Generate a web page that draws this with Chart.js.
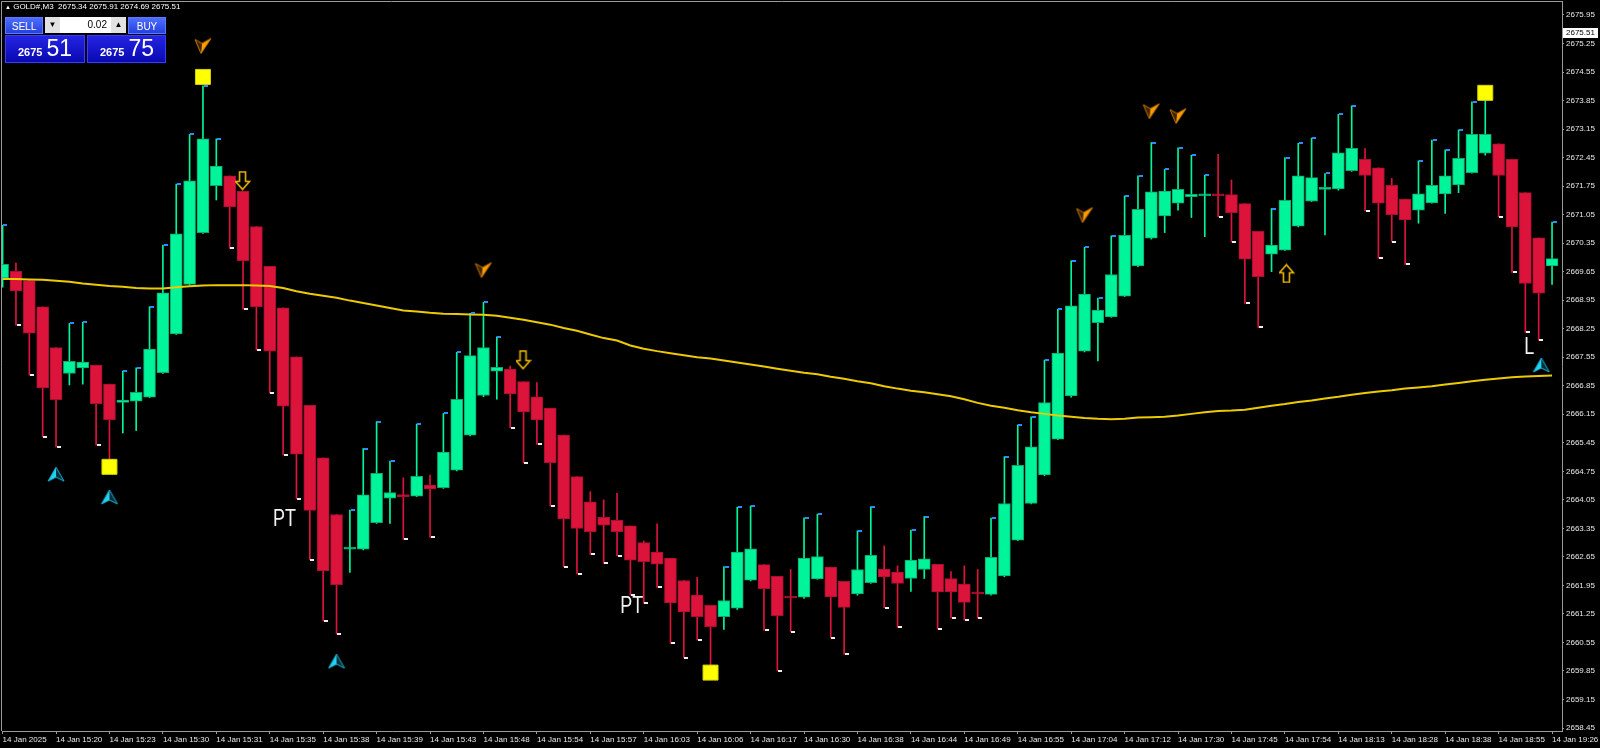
<!DOCTYPE html>
<html>
<head>
<meta charset="utf-8">
<script src="https://cdn.jsdelivr.net/npm/chart.js@4.4.1/dist/chart.umd.min.js"></script>
<style>
  html, body { margin: 0; padding: 0; background: #000; }
  #wrap { position: relative; width: 1600px; height: 748px; background: #000; overflow: hidden; }
  #chart { position: absolute; left: 0; top: 0; }
  .ui { position: absolute; font-family: "Liberation Sans", Arial, sans-serif; color: #fff; }
  .hdr { left: 5px; top: 2px; font-size: 8px; line-height: 10px; white-space: pre; }
  .hdr .tri { font-size: 6px; }
  .btn { top: 17px; height: 17px; font-size: 10px; line-height: 17px; text-align: center;
         background: linear-gradient(#4f6dff, #2442dc); box-sizing: border-box; border: 1px solid #5c7aff; }
  .spin { left: 45px; top: 17px; width: 81px; height: 16px; background: #fff; }
  .sb { position: absolute; top: 0; width: 15px; height: 16px; background: #e2e2e2; color: #000;
        font-size: 8px; line-height: 16px; text-align: center; }
  .fld { position: absolute; left: 16px; right: 16px; top: 0; height: 16px; color: #000;
         font-size: 10px; line-height: 16px; text-align: right; padding-right: 3px; }
  .pbox { top: 35px; height: 28px; box-sizing: border-box; border: 1px solid #3c3cff;
          background: linear-gradient(#2424e4, #0909b2); }
  .pline { position: absolute; left: 12px; bottom: 2px; white-space: nowrap; line-height: 1; }
  .sm { font-size: 11px; font-weight: bold; margin-right: 4px; }
  .big { font-size: 23px; }
</style>
</head>
<body>
<div id="wrap">
  <canvas id="chart" width="1600" height="748"></canvas>
  <div class="ui hdr"><span class="tri">▲</span> GOLD#,M3  2675.34 2675.91 2674.69 2675.51</div>
  <div class="ui btn" style="left:5px;width:38px;">SELL</div>
  <div class="ui spin">
    <div class="sb" style="left:0">▼</div>
    <div class="fld">0.02</div>
    <div class="sb" style="right:0">▲</div>
  </div>
  <div class="ui btn" style="left:128px;width:38px;">BUY</div>
  <div class="ui pbox" style="left:5px;width:80px;"><div class="pline"><span class="sm">2675</span><span class="big">51</span></div></div>
  <div class="ui pbox" style="left:87px;width:79px;"><div class="pline"><span class="sm">2675</span><span class="big">75</span></div></div>
</div>
<script>
// time axis labels, one every 4 bars
const timeLabels = ['14 Jan 2025', '14 Jan 15:20', '14 Jan 15:23', '14 Jan 15:30', '14 Jan 15:31',
  '14 Jan 15:35', '14 Jan 15:38', '14 Jan 15:39', '14 Jan 15:43', '14 Jan 15:48', '14 Jan 15:54',
  '14 Jan 15:57', '14 Jan 16:03', '14 Jan 16:06', '14 Jan 16:17', '14 Jan 16:30', '14 Jan 16:38',
  '14 Jan 16:44', '14 Jan 16:49', '14 Jan 16:55', '14 Jan 17:04', '14 Jan 17:12', '14 Jan 17:30',
  '14 Jan 17:45', '14 Jan 17:54', '14 Jan 18:13', '14 Jan 18:28', '14 Jan 18:38', '14 Jan 18:55',
  '14 Jan 19:26'];

const priceTicks = [2658.45, 2659.15, 2659.85, 2660.55, 2661.25, 2661.95, 2662.65, 2663.35, 2664.05,
  2664.75, 2665.45, 2666.15, 2666.85, 2667.55, 2668.25, 2668.95, 2669.65, 2670.35, 2671.05, 2671.75,
  2672.45, 2673.15, 2673.85, 2674.55, 2675.25, 2675.95];

const bidPrice = 2675.51;

const openP = [
  2669.49, 2669.66, 2669.43, 2668.79, 2667.79, 2667.15, 2667.29, 2667.36, 2666.89, 2666.44,
  2666.47, 2666.57, 2667.17, 2668.12, 2669.34, 2670.61, 2671.76, 2672.00, 2671.63, 2670.76,
  2669.78, 2668.76, 2667.56, 2666.37, 2665.08, 2663.69, 2662.84, 2662.84, 2663.49, 2664.09,
  2664.17, 2664.14, 2664.41, 2664.35, 2664.78, 2665.64, 2666.61, 2667.21, 2667.26, 2666.95,
  2666.58, 2666.30, 2665.64, 2664.62, 2664.00, 2663.62, 2663.55, 2663.41, 2663.00, 2662.77,
  2662.62, 2662.07, 2661.71, 2661.46, 2661.18, 2661.39, 2662.08, 2662.46, 2662.17, 2661.69,
  2661.66, 2662.11, 2662.40, 2662.05, 2661.74, 2662.02, 2662.35, 2662.28, 2662.12, 2662.34,
  2662.47, 2662.12, 2661.98, 2661.77, 2661.73, 2662.18, 2663.06, 2663.96, 2664.66, 2665.54,
  2666.60, 2667.70, 2668.40, 2668.54, 2669.05, 2669.79, 2670.47, 2671.02, 2671.33, 2671.49,
  2671.51, 2671.54, 2671.54, 2671.32, 2670.64, 2670.08, 2670.18, 2670.77, 2671.38, 2671.67,
  2671.68, 2672.13, 2672.41, 2672.20, 2671.77, 2671.43, 2671.16, 2671.34, 2671.56, 2671.78,
  2672.08, 2672.56, 2672.79, 2672.41, 2671.59, 2670.48, 2669.79];

const highP = [
  2670.79, 2669.86, 2669.46, 2668.79, 2667.79, 2668.38, 2668.41, 2667.36, 2666.89, 2667.21,
  2667.29, 2668.79, 2670.30, 2671.80, 2673.02, 2674.21, 2672.91, 2672.00, 2671.63, 2670.76,
  2669.78, 2668.76, 2667.56, 2666.37, 2665.08, 2663.69, 2663.80, 2665.31, 2665.97, 2665.00,
  2664.59, 2665.91, 2664.66, 2666.17, 2667.67, 2668.63, 2668.90, 2668.05, 2667.33, 2666.95,
  2666.93, 2666.30, 2665.64, 2664.62, 2664.25, 2664.05, 2664.21, 2663.41, 2663.04, 2663.46,
  2662.62, 2662.07, 2662.15, 2661.46, 2662.41, 2663.87, 2663.90, 2662.46, 2662.17, 2662.34,
  2663.61, 2663.70, 2662.40, 2662.05, 2663.29, 2663.88, 2662.92, 2662.43, 2663.31, 2663.64,
  2662.47, 2662.29, 2662.43, 2662.34, 2663.60, 2665.11, 2665.89, 2666.09, 2667.48, 2668.73,
  2669.92, 2670.25, 2669.00, 2670.53, 2671.51, 2672.00, 2672.82, 2672.16, 2672.69, 2672.51,
  2672.02, 2672.53, 2671.90, 2671.32, 2670.64, 2671.20, 2672.45, 2672.80, 2672.93, 2672.06,
  2673.51, 2673.72, 2672.67, 2672.20, 2671.94, 2671.43, 2672.37, 2672.88, 2672.64, 2673.13,
  2673.82, 2673.89, 2672.79, 2672.41, 2671.59, 2670.48, 2670.87];

const lowP = [
  2669.27, 2668.34, 2667.11, 2665.60, 2665.35, 2666.87, 2666.89, 2665.40, 2665.03, 2665.69,
  2665.75, 2666.56, 2667.15, 2668.11, 2669.32, 2670.59, 2671.41, 2670.22, 2668.73, 2667.73,
  2666.67, 2665.15, 2664.08, 2662.58, 2661.08, 2660.76, 2662.27, 2662.82, 2663.47, 2663.47,
  2663.08, 2664.13, 2663.13, 2664.33, 2664.76, 2665.62, 2666.58, 2666.52, 2665.82, 2664.96,
  2665.41, 2663.90, 2662.41, 2662.23, 2662.71, 2662.49, 2662.68, 2661.71, 2661.51, 2661.90,
  2660.53, 2660.18, 2660.61, 2659.97, 2660.87, 2661.36, 2662.06, 2660.85, 2659.86, 2660.81,
  2661.63, 2662.10, 2660.67, 2660.26, 2661.71, 2662.00, 2661.40, 2660.92, 2661.80, 2662.12,
  2660.88, 2661.15, 2661.10, 2661.15, 2661.71, 2662.16, 2663.05, 2663.95, 2664.64, 2665.53,
  2666.57, 2667.68, 2667.46, 2668.53, 2669.04, 2669.77, 2670.45, 2670.61, 2671.16, 2670.98,
  2670.51, 2671.00, 2670.38, 2668.87, 2668.28, 2669.65, 2670.17, 2670.75, 2671.37, 2670.55,
  2671.65, 2672.11, 2671.15, 2669.98, 2670.39, 2669.83, 2670.84, 2671.33, 2671.08, 2671.59,
  2672.07, 2672.51, 2671.00, 2669.63, 2668.16, 2667.97, 2669.34];

const closeP = [
  2669.83, 2669.18, 2668.14, 2666.80, 2666.51, 2667.45, 2667.43, 2666.41, 2666.02, 2666.50,
  2666.69, 2667.75, 2669.13, 2670.58, 2671.88, 2672.91, 2672.24, 2671.24, 2669.92, 2668.79,
  2667.70, 2666.35, 2665.17, 2663.79, 2662.31, 2661.97, 2662.86, 2664.17, 2664.70, 2664.23,
  2664.13, 2664.63, 2664.32, 2665.22, 2666.52, 2667.59, 2667.79, 2667.30, 2666.65, 2666.21,
  2666.01, 2664.96, 2663.58, 2663.35, 2663.27, 2663.43, 2663.27, 2662.57, 2662.53, 2662.47,
  2661.52, 2661.30, 2661.18, 2660.94, 2661.58, 2662.77, 2662.85, 2661.87, 2661.21, 2661.64,
  2662.62, 2662.66, 2661.67, 2661.41, 2662.34, 2662.69, 2662.16, 2662.00, 2662.57, 2662.60,
  2661.79, 2661.79, 2661.53, 2661.74, 2662.64, 2663.96, 2664.90, 2665.35, 2666.44, 2667.65,
  2668.81, 2669.10, 2668.71, 2669.58, 2670.54, 2671.18, 2671.61, 2671.63, 2671.67, 2671.55,
  2671.55, 2671.51, 2671.10, 2669.96, 2669.53, 2670.30, 2671.40, 2672.00, 2671.96, 2671.70,
  2672.57, 2672.68, 2672.01, 2671.33, 2671.05, 2670.92, 2671.56, 2671.77, 2672.00, 2672.43,
  2673.02, 2673.02, 2672.01, 2670.75, 2669.36, 2669.12, 2669.97];

// yellow moving average
const maPrice = [
  2669.47, 2669.47, 2669.46, 2669.45, 2669.43, 2669.40, 2669.36, 2669.33, 2669.30, 2669.28,
  2669.25, 2669.24, 2669.24, 2669.27, 2669.29, 2669.31, 2669.32, 2669.32, 2669.32, 2669.31,
  2669.30, 2669.25, 2669.17, 2669.11, 2669.06, 2669.01, 2668.94, 2668.88, 2668.82, 2668.76,
  2668.70, 2668.67, 2668.64, 2668.62, 2668.61, 2668.60, 2668.59, 2668.57, 2668.52, 2668.47,
  2668.41, 2668.35, 2668.27, 2668.20, 2668.11, 2668.02, 2667.96, 2667.84, 2667.76, 2667.70,
  2667.65, 2667.60, 2667.55, 2667.52, 2667.47, 2667.42, 2667.37, 2667.32, 2667.27, 2667.22,
  2667.17, 2667.13, 2667.07, 2667.02, 2666.96, 2666.91, 2666.84, 2666.78, 2666.73, 2666.69,
  2666.64, 2666.59, 2666.52, 2666.43, 2666.36, 2666.31, 2666.25, 2666.20, 2666.16, 2666.12,
  2666.09, 2666.06, 2666.04, 2666.03, 2666.04, 2666.07, 2666.08, 2666.09, 2666.12, 2666.16,
  2666.20, 2666.23, 2666.24, 2666.26, 2666.31, 2666.36, 2666.40, 2666.45, 2666.49, 2666.54,
  2666.58, 2666.63, 2666.67, 2666.71, 2666.74, 2666.78, 2666.81, 2666.84, 2666.88, 2666.92,
  2666.96, 2667.00, 2667.03, 2667.06, 2667.08, 2667.09, 2667.10];

// indicator marks (bar index, price)
const squareIdx = [8, 15, 53, 111];
const squarePrice = [2664.86, 2674.43, 2659.81, 2674.04];
const sellArrowIdx = [15, 36, 81, 86, 88];
const sellArrowPrice = [2675.19, 2669.69, 2671.04, 2673.59, 2673.47];
const buyArrowIdx = [4, 8, 25, 115.2];
const buyArrowPrice = [2664.68, 2664.12, 2660.09, 2667.36];
const downHollowIdx = [18, 39];
const downHollowPrice = [2671.88, 2667.48];
const upHollowIdx = [96.15];
const upHollowPrice = [2669.61];
const noteText = ['PT', 'PT', 'L'];
const noteIdx = [21.1, 47.1, 114.3];
const notePrice = [2663.57, 2661.43, 2667.78];

const UP = '#00f59a', DOWN = '#dc143c';
const FONT = '"Liberation Sans", Arial, sans-serif';

const bars = openP.map((_, i) => i);
const isUp = bars.map(i => closeP[i] >= openP[i]);

function icon(w, h, draw) {
  const c = document.createElement('canvas');
  c.width = w; c.height = h;
  draw(c.getContext('2d'));
  return c;
}

const sellIcon = icon(18, 17, g => {
  g.lineJoin = 'round';
  g.beginPath(); g.moveTo(1, 2); g.lineTo(8, 6); g.lineTo(7, 16); g.closePath();
  g.fillStyle = '#3c2200'; g.fill();
  g.beginPath(); g.moveTo(8, 6); g.lineTo(17, 1); g.lineTo(7, 16); g.closePath();
  g.fillStyle = '#ff9c00'; g.fill();
  g.beginPath(); g.moveTo(1, 2); g.lineTo(8, 6); g.lineTo(17, 1); g.lineTo(7, 16); g.closePath();
  g.strokeStyle = '#c87800'; g.lineWidth = 1; g.stroke();
});

const buyIcon = icon(18, 16, g => {
  g.lineJoin = 'round';
  g.beginPath(); g.moveTo(9, 1); g.lineTo(1, 15); g.lineTo(9, 11); g.closePath();
  g.fillStyle = '#22d2f2'; g.fill();
  g.beginPath(); g.moveTo(9, 1); g.lineTo(9, 11); g.lineTo(17, 15); g.closePath();
  g.fillStyle = '#062f3a'; g.fill();
  g.beginPath(); g.moveTo(9, 1); g.lineTo(1, 15); g.lineTo(9, 11); g.lineTo(17, 15); g.closePath();
  g.strokeStyle = '#18b4d4'; g.lineWidth = 1; g.stroke();
});

function hollowArrow(up) {
  return icon(16, 20, g => {
    if (up) { g.translate(0, 20); g.scale(1, -1); }
    g.beginPath();
    g.moveTo(4.5, 1); g.lineTo(10.5, 1); g.lineTo(10.5, 10.5); g.lineTo(14.5, 10.5);
    g.lineTo(7.5, 18.5); g.lineTo(0.5, 10.5); g.lineTo(4.5, 10.5); g.closePath();
    g.fillStyle = '#000'; g.fill();
    g.strokeStyle = '#e8b400'; g.lineWidth = 1.6; g.stroke();
  });
}

// short tick next to the wick end (white at lows of down bars, blue at highs of up bars)
const tickIcon = (col) => icon(4, 2, g => { g.fillStyle = col; g.fillRect(0, 0, 4, 2); });
const whiteTick = tickIcon('#f0f0f0');
const blueTick = tickIcon('#2a8cff');

function marks(idx, price, style, extra) {
  return Object.assign({
    type: 'line', showLine: false, order: 0, clip: false,
    data: idx.map((k, j) => ({ x: k, y: price[j] })),
    pointStyle: style, pointRadius: 8, pointHoverRadius: 8
  }, extra || {});
}

const overlay = {
  id: 'overlay',
  afterDraw(chart) {
    const { ctx, chartArea: a, scales: { x, y } } = chart;
    ctx.save();
    // chart frame (left + top)
    ctx.strokeStyle = '#9a9a9a';
    ctx.lineWidth = 1;
    ctx.beginPath();
    ctx.moveTo(1.5, a.bottom); ctx.lineTo(1.5, 1.5); ctx.lineTo(a.right, 1.5);
    ctx.stroke();

    // text notes
    ctx.fillStyle = '#f2f2f2';
    ctx.textAlign = 'center';
    ctx.textBaseline = 'middle';
    ctx.font = '18px ' + FONT;
    noteText.forEach((t, j) => {
      const px = x.getPixelForValue(noteIdx[j]);
      const py = y.getPixelForValue(notePrice[j]);
      ctx.save();
      ctx.translate(px, py);
      ctx.scale(1, 1.3);
      ctx.fillText(t, 0, 0);
      ctx.restore();
    });

    // bid price box on the price scale
    const by = Math.round(y.getPixelForValue(bidPrice));
    ctx.fillStyle = '#fff';
    ctx.fillRect(a.right + 1, by - 5, 35, 10);
    ctx.fillStyle = '#000';
    ctx.textAlign = 'left';
    ctx.font = '8px ' + FONT;
    ctx.fillText(bidPrice.toFixed(2), a.right + 4, by);
    ctx.restore();
  }
};

const downBars = bars.filter(i => !isUp[i]);
const upBars = bars.filter(i => isUp[i]);

new Chart(document.getElementById('chart'), {
  type: 'bar',
  data: {
    datasets: [
      marks(squareIdx, squarePrice, 'rect', {
        pointRadius: 10.6, backgroundColor: '#ffff00', borderColor: '#d4d400', borderWidth: 1
      }),
      marks(sellArrowIdx, sellArrowPrice, sellIcon),
      marks(buyArrowIdx, buyArrowPrice, buyIcon),
      marks(downHollowIdx, downHollowPrice, hollowArrow(false)),
      marks(upHollowIdx, upHollowPrice, hollowArrow(true)),
      marks(downBars.map(i => i + 0.2), downBars.map(i => lowP[i]), whiteTick, { order: 1 }),
      marks(upBars.map(i => i + 0.2), upBars.map(i => highP[i]), blueTick, { order: 1 }),
      {
        type: 'line', order: 1,
        data: bars.map(i => ({ x: i, y: maPrice[i] })),
        borderColor: '#eccb00', borderWidth: 2, pointRadius: 0, tension: 0
      },
      {
        type: 'bar', order: 2, grouped: false,
        data: bars.map(i => ({ x: i, y: [openP[i], closeP[i]] })),
        backgroundColor: bars.map(i => isUp[i] ? UP : DOWN),
        borderColor: bars.map(i => isUp[i] ? '#0da66c' : '#a80f2e'),
        borderWidth: 1, borderSkipped: false, barThickness: 12, minBarLength: 2
      },
      {
        type: 'bar', order: 3, grouped: false,
        data: bars.map(i => ({ x: i, y: [lowP[i], highP[i]] })),
        backgroundColor: bars.map(i => isUp[i] ? UP : DOWN),
        borderWidth: 0, barThickness: 1
      }
    ]
  },
  options: {
    responsive: false,
    animation: false,
    events: [],
    layout: { autoPadding: false, padding: { left: 2, top: 1, right: 0, bottom: 0 } },
    plugins: { legend: { display: false }, tooltip: { enabled: false } },
    scales: {
      x: {
        type: 'linear', position: 'bottom', offset: false,
        min: -0.045, max: 116.745,
        afterBuildTicks: s => { s.ticks = timeLabels.map((_, j) => ({ value: j * 4 })); },
        afterFit: s => { s.height = 17; s.paddingLeft = 0; s.paddingRight = 0; },
        grid: { display: true, drawOnChartArea: false, drawTicks: true, tickLength: 3, color: '#9a9a9a', offset: false },
        border: { display: true, color: '#9a9a9a' },
        ticks: {
          autoSkip: false, maxRotation: 0, align: 'start', padding: 1,
          color: '#e8e8e8', font: { family: FONT, size: 8 },
          callback: v => timeLabels[Math.round(v / 4)]
        }
      },
      y: {
        type: 'linear', position: 'right', beginAtZero: false,
        min: 2658.3764, max: 2676.2936,
        afterBuildTicks: s => { s.ticks = priceTicks.map(v => ({ value: v })); },
        afterFit: s => { s.width = 38; s.paddingTop = 0; s.paddingBottom = 0; },
        grid: { display: true, drawOnChartArea: false, drawTicks: true, tickLength: 2, color: '#9a9a9a' },
        border: { display: true, color: '#9a9a9a' },
        ticks: {
          padding: 2, color: '#e8e8e8', font: { family: FONT, size: 8 },
          callback: v => Number(v).toFixed(2)
        }
      }
    }
  },
  plugins: [overlay]
});
</script>
</body>
</html>
